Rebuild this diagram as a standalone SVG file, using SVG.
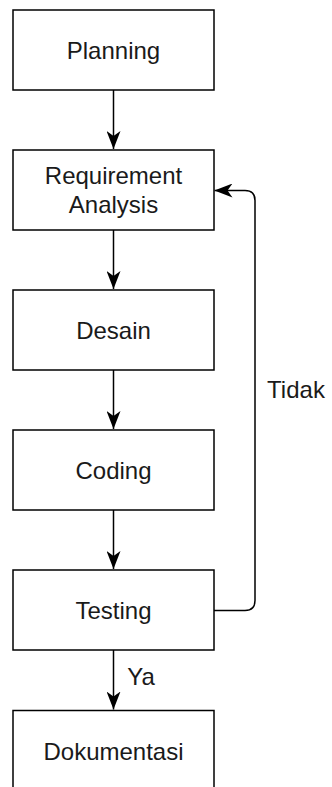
<svg xmlns="http://www.w3.org/2000/svg" width="332" height="787" viewBox="0 0 332 787">
<defs>
<style>
.box{fill:#fff;stroke:#000;stroke-width:1.5}
.lbl{font-family:"Liberation Sans",Arial,sans-serif;font-size:24px;fill:#1a1a1a;text-anchor:middle}
.edge{fill:none;stroke:#000;stroke-width:1.5}
</style>
<marker id="arr" viewBox="0 0 18 14" refX="18" refY="7" markerWidth="18" markerHeight="14" markerUnits="userSpaceOnUse" orient="auto">
<path d="M18,7 L0,0 L5,7 L0,14 Z" fill="#000"/>
</marker>
</defs>
<rect width="332" height="787" fill="#fff"/>
<g id="connectors">
<path class="edge" d="M113.5,90 V149" marker-end="url(#arr)"/>
<path class="edge" d="M113.5,230 V289" marker-end="url(#arr)"/>
<path class="edge" d="M113.5,370 V429" marker-end="url(#arr)"/>
<path class="edge" d="M113.5,510 V569" marker-end="url(#arr)"/>
<path class="edge" d="M113.5,650 V709.5" marker-end="url(#arr)"/>
<path class="edge" d="M213.5,610.5 H245 Q255,610.5 255,600.5 V200.5 Q255,190.5 245,190.5 H214.5" marker-end="url(#arr)"/>
<text class="lbl" x="141" y="685">Ya</text>
<text class="lbl" x="296" y="398">Tidak</text>
</g>
<g id="planning"><rect class="box" x="13" y="10" width="201" height="80"/><text class="lbl" x="113.5" y="59">Planning</text></g>
<g id="requirement"><rect class="box" x="13" y="150" width="201" height="80"/><text class="lbl" x="113.5" y="183.5">Requirement</text><text class="lbl" x="113.5" y="212.5">Analysis</text></g>
<g id="desain"><rect class="box" x="13" y="290" width="201" height="80"/><text class="lbl" x="113.5" y="339">Desain</text></g>
<g id="coding"><rect class="box" x="13" y="430" width="201" height="80"/><text class="lbl" x="113.5" y="479">Coding</text></g>
<g id="testing"><rect class="box" x="13" y="570" width="201" height="80"/><text class="lbl" x="113.5" y="619">Testing</text></g>
<g id="dokumentasi"><rect class="box" x="13" y="710.5" width="201" height="90"/><text class="lbl" x="113.5" y="759.5">Dokumentasi</text></g>
</svg>
